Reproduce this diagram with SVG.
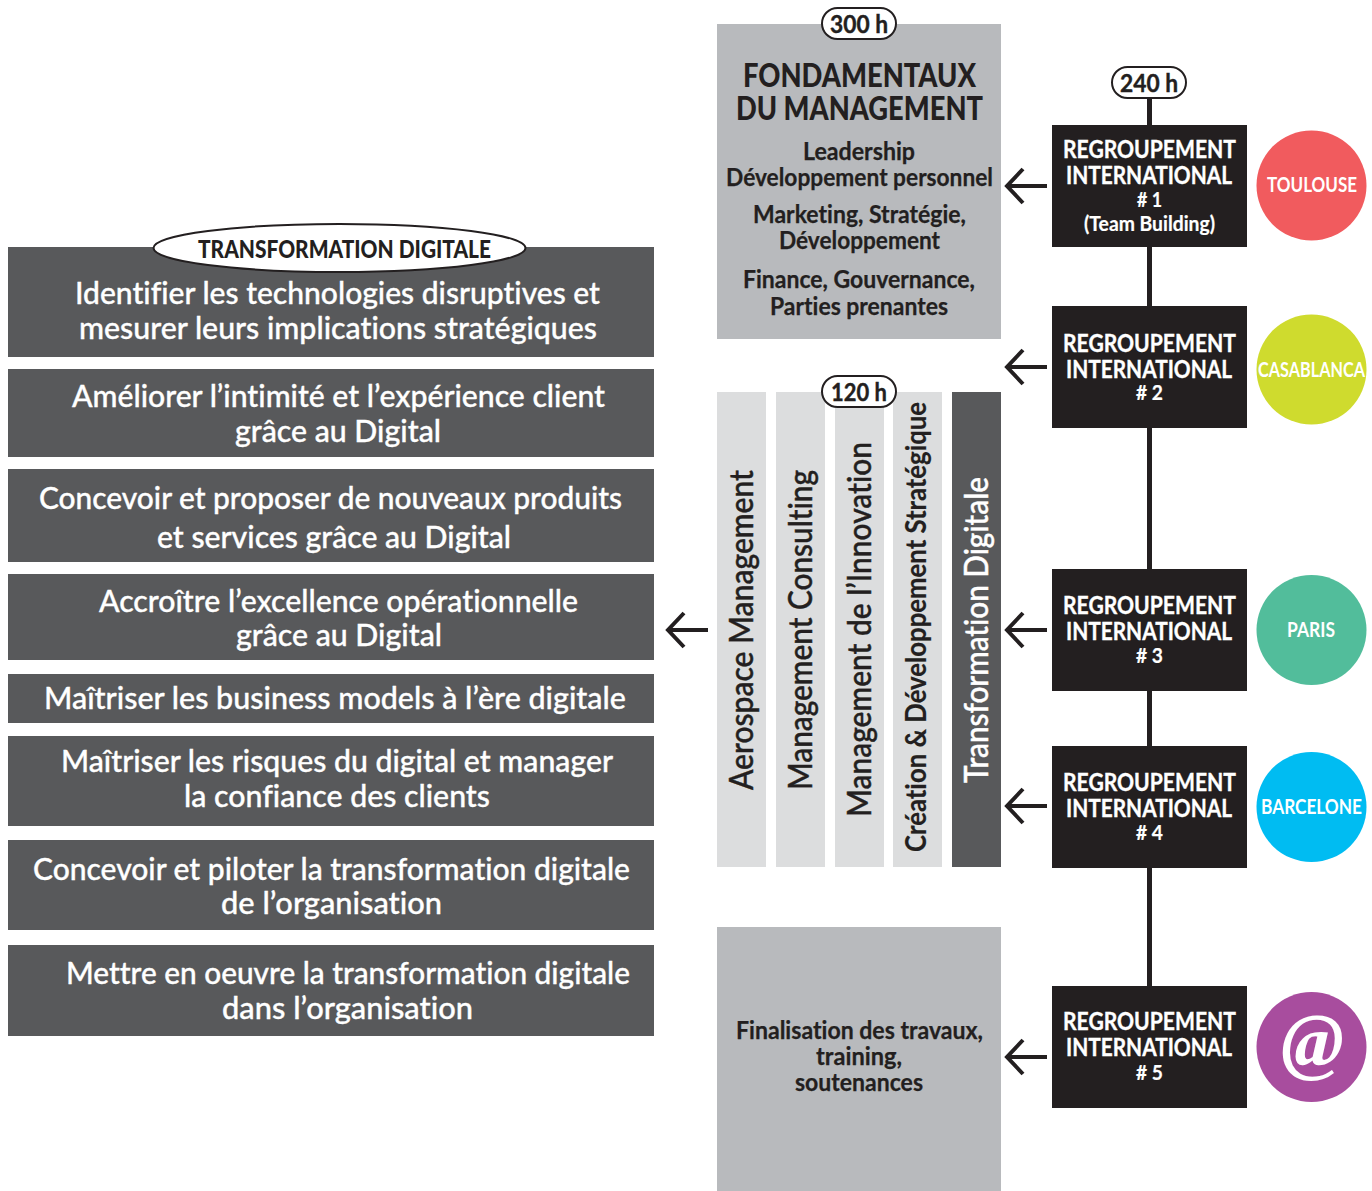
<svg xmlns="http://www.w3.org/2000/svg" width="1372" height="1191" viewBox="0 0 1372 1191">
<style>
text{font-family:"Lato","Liberation Sans",sans-serif;font-weight:700;font-variant-ligatures:none}
.obj{fill:#58595b}.obj-t{fill:#fff;font-size:31px;font-weight:500;stroke:#fff;stroke-width:.35px}
.hd{fill:#231f20;font-size:32px;font-weight:900}
.sub{fill:#231f20;font-size:24px;stroke:#231f20;stroke-width:.25px}
.blk{fill:#231f20}
.w{fill:#fff;font-size:24px;stroke:#fff;stroke-width:.35px}.w2{fill:#fff;font-size:20px;stroke:#fff;stroke-width:.2px}.city{fill:#fff;font-size:21px}
.pill{fill:#fff;stroke:#231f20;stroke-width:2}
.pt{fill:#231f20;font-size:25px;stroke:#231f20;stroke-width:.4px}
.lg{fill:#dcddde}.g{fill:#b8babd}
.v{fill:#231f20;font-size:33px;font-weight:500;stroke:#231f20;stroke-width:.45px}
.arr{fill:none;stroke:#231f20;stroke-width:4}
</style>
<defs>
<path id="arrow" class="arr" d="M42 0H2M18-17L2 0L18 17"/>
</defs>
<g id="connectors">
<rect x="1147" y="95" width="5" height="891" fill="#231f20"/>
<use href="#arrow" x="1005" y="186"/>
<use href="#arrow" x="1005" y="367"/>
<use href="#arrow" x="1005" y="630"/>
<use href="#arrow" x="1005" y="806"/>
<use href="#arrow" x="1005" y="1057"/>
<use href="#arrow" x="666" y="630"/>
</g>
<g id="obj1"><rect class="obj" x="8" y="247" width="646" height="110"/>
<text class="obj-t" x="75" y="304" textLength="525" lengthAdjust="spacingAndGlyphs">Identifier les technologies disruptives et</text>
<text class="obj-t" x="79" y="339" textLength="518" lengthAdjust="spacingAndGlyphs">mesurer leurs implications stratégiques</text></g>
<g id="obj2"><rect class="obj" x="8" y="369" width="646" height="88"/>
<text class="obj-t" x="72" y="407" textLength="533" lengthAdjust="spacingAndGlyphs">Améliorer l’intimité et l’expérience client</text>
<text class="obj-t" x="235" y="442" textLength="206" lengthAdjust="spacingAndGlyphs">grâce au Digital</text></g>
<g id="obj3"><rect class="obj" x="8" y="469" width="646" height="93"/>
<text class="obj-t" x="39" y="509" textLength="583" lengthAdjust="spacingAndGlyphs">Concevoir et proposer de nouveaux produits</text>
<text class="obj-t" x="157" y="548" textLength="354" lengthAdjust="spacingAndGlyphs">et services grâce au Digital</text></g>
<g id="obj4"><rect class="obj" x="8" y="574" width="646" height="86"/>
<text class="obj-t" x="99" y="612" textLength="479" lengthAdjust="spacingAndGlyphs">Accroître l’excellence opérationnelle</text>
<text class="obj-t" x="236" y="646" textLength="206" lengthAdjust="spacingAndGlyphs">grâce au Digital</text></g>
<g id="obj5"><rect class="obj" x="8" y="674" width="646" height="49"/>
<text class="obj-t" x="44" y="709" textLength="582" lengthAdjust="spacingAndGlyphs">Maîtriser les business models à l’ère digitale</text></g>
<g id="obj6"><rect class="obj" x="8" y="736" width="646" height="90"/>
<text class="obj-t" x="61" y="772" textLength="552" lengthAdjust="spacingAndGlyphs">Maîtriser les risques du digital et manager</text>
<text class="obj-t" x="184" y="807" textLength="306" lengthAdjust="spacingAndGlyphs">la confiance des clients</text></g>
<g id="obj7"><rect class="obj" x="8" y="840" width="646" height="90"/>
<text class="obj-t" x="33" y="880" textLength="597" lengthAdjust="spacingAndGlyphs">Concevoir et piloter la transformation digitale</text>
<text class="obj-t" x="221" y="914" textLength="221" lengthAdjust="spacingAndGlyphs">de l’organisation</text></g>
<g id="obj8"><rect class="obj" x="8" y="945" width="646" height="91"/>
<text class="obj-t" x="66" y="984" textLength="564" lengthAdjust="spacingAndGlyphs">Mettre en oeuvre la transformation digitale</text>
<text class="obj-t" x="222" y="1019" textLength="251" lengthAdjust="spacingAndGlyphs">dans l’organisation</text></g>
<g id="td-label"><ellipse class="pill" cx="339.500" cy="248" rx="186" ry="24"/>
<text x="198" y="258" fill="#231f20" font-size="25" style="font-weight:900" textLength="293" lengthAdjust="spacingAndGlyphs">TRANSFORMATION DIGITALE</text></g>

<g id="fondamentaux"><rect class="g" x="717" y="24" width="284" height="315"/>
<text class="hd" x="743" y="87" textLength="233" lengthAdjust="spacingAndGlyphs">FONDAMENTAUX</text>
<text class="hd" x="736" y="120" textLength="247" lengthAdjust="spacingAndGlyphs">DU MANAGEMENT</text>
<text class="sub" x="803" y="160" textLength="112" lengthAdjust="spacingAndGlyphs">Leadership</text>
<text class="sub" x="726" y="186" textLength="267" lengthAdjust="spacingAndGlyphs">Développement personnel</text>
<text class="sub" x="753" y="223" textLength="213" lengthAdjust="spacingAndGlyphs">Marketing, Stratégie,</text>
<text class="sub" x="779" y="249" textLength="161" lengthAdjust="spacingAndGlyphs">Développement</text>
<text class="sub" x="743" y="288" textLength="232" lengthAdjust="spacingAndGlyphs">Finance, Gouvernance,</text>
<text class="sub" x="770" y="315" textLength="178" lengthAdjust="spacingAndGlyphs">Parties prenantes</text></g>
<g id="pill300"><rect class="pill" x="822" y="8" width="74" height="31" rx="15.500"/>
<text class="pt" x="830" y="33" textLength="58" lengthAdjust="spacingAndGlyphs">300 h</text></g>

<g id="col1"><rect class="lg" x="717" y="392" width="49" height="475"/>
<text class="v" transform="translate(753 790) rotate(-90)" textLength="320" lengthAdjust="spacingAndGlyphs">Aerospace Management</text></g>
<g id="col2"><rect class="lg" x="776" y="392" width="49" height="475"/>
<text class="v" transform="translate(812 790) rotate(-90)" textLength="320" lengthAdjust="spacingAndGlyphs">Management Consulting</text></g>
<g id="col3"><rect class="lg" x="835" y="392" width="49" height="475"/>
<text class="v" transform="translate(871 817) rotate(-90)" textLength="375" lengthAdjust="spacingAndGlyphs">Management de l’Innovation</text></g>
<g id="col4"><rect class="lg" x="893" y="392" width="49" height="475"/>
<text class="v" style="font-size:28px;font-weight:700;stroke-width:.2px" transform="translate(926 852) rotate(-90)" textLength="450" lengthAdjust="spacingAndGlyphs">Création &amp; Développement Stratégique</text></g>
<g id="col5"><rect class="obj" x="952" y="392" width="49" height="475"/>
<text class="v" style="fill:#fff;stroke:#fff" transform="translate(988 783) rotate(-90)" textLength="306" lengthAdjust="spacingAndGlyphs">Transformation Digitale</text></g>
<g id="pill120"><rect class="pill" x="822" y="376" width="74" height="31" rx="15.500"/>
<text class="pt" x="831" y="401" textLength="56" lengthAdjust="spacingAndGlyphs">120 h</text></g>

<g id="final"><rect class="g" x="717" y="927" width="284" height="264"/>
<text class="sub" x="736" y="1039" textLength="247" lengthAdjust="spacingAndGlyphs">Finalisation des travaux,</text>
<text class="sub" x="816" y="1065" textLength="86" lengthAdjust="spacingAndGlyphs">training,</text>
<text class="sub" x="795" y="1091" textLength="128" lengthAdjust="spacingAndGlyphs">soutenances</text></g>

<g id="pill240"><rect class="pill" x="1112" y="67" width="74" height="31" rx="15.500"/>
<text class="pt" x="1120" y="92" textLength="58" lengthAdjust="spacingAndGlyphs">240 h</text></g>

<g id="reg1"><rect class="blk" x="1052" y="125" width="195" height="122"/>
<text class="w" x="1063" y="158" textLength="173" lengthAdjust="spacingAndGlyphs">REGROUPEMENT</text>
<text class="w" x="1066" y="184" textLength="166" lengthAdjust="spacingAndGlyphs">INTERNATIONAL</text>
<text class="w2" x="1137" y="207" textLength="25" lengthAdjust="spacingAndGlyphs"># 1</text>
<text class="w2" x="1084" y="231" textLength="131" lengthAdjust="spacingAndGlyphs">(Team Building)</text></g>
<g id="reg2"><rect class="blk" x="1052" y="306" width="195" height="122"/>
<text class="w" x="1063" y="352" textLength="173" lengthAdjust="spacingAndGlyphs">REGROUPEMENT</text>
<text class="w" x="1066" y="378" textLength="166" lengthAdjust="spacingAndGlyphs">INTERNATIONAL</text>
<text class="w2" x="1136" y="400" textLength="27" lengthAdjust="spacingAndGlyphs"># 2</text></g>
<g id="reg3"><rect class="blk" x="1052" y="569" width="195" height="122"/>
<text class="w" x="1063" y="614" textLength="173" lengthAdjust="spacingAndGlyphs">REGROUPEMENT</text>
<text class="w" x="1066" y="640" textLength="166" lengthAdjust="spacingAndGlyphs">INTERNATIONAL</text>
<text class="w2" x="1136" y="663" textLength="27" lengthAdjust="spacingAndGlyphs"># 3</text></g>
<g id="reg4"><rect class="blk" x="1052" y="746" width="195" height="122"/>
<text class="w" x="1063" y="791" textLength="173" lengthAdjust="spacingAndGlyphs">REGROUPEMENT</text>
<text class="w" x="1066" y="817" textLength="166" lengthAdjust="spacingAndGlyphs">INTERNATIONAL</text>
<text class="w2" x="1136" y="840" textLength="27" lengthAdjust="spacingAndGlyphs"># 4</text></g>
<g id="reg5"><rect class="blk" x="1052" y="986" width="195" height="122"/>
<text class="w" x="1063" y="1030" textLength="173" lengthAdjust="spacingAndGlyphs">REGROUPEMENT</text>
<text class="w" x="1066" y="1056" textLength="166" lengthAdjust="spacingAndGlyphs">INTERNATIONAL</text>
<text class="w2" x="1136" y="1080" textLength="27" lengthAdjust="spacingAndGlyphs"># 5</text></g>

<g id="toulouse"><circle cx="1311.500" cy="185.500" r="55" fill="#f15b5e"/>
<text class="city" x="1267" y="192" textLength="90" lengthAdjust="spacingAndGlyphs">TOULOUSE</text></g>
<g id="casablanca"><circle cx="1311.500" cy="369.500" r="55" fill="#cfdb2e"/>
<text class="city" x="1258" y="377" textLength="107" lengthAdjust="spacingAndGlyphs">CASABLANCA</text></g>
<g id="paris"><circle cx="1311.500" cy="630" r="55" fill="#52bd9b"/>
<text class="city" x="1287" y="637" textLength="48" lengthAdjust="spacingAndGlyphs">PARIS</text></g>
<g id="barcelone"><circle cx="1311.500" cy="807" r="55" fill="#00bcf2"/>
<text class="city" x="1261" y="814" textLength="101" lengthAdjust="spacingAndGlyphs">BARCELONE</text></g>
<g id="online"><circle cx="1311.500" cy="1047" r="55" fill="#a84d9e"/>
<text x="1281" y="1066" fill="#fff" font-size="76" font-style="italic" textLength="63" lengthAdjust="spacingAndGlyphs" style="font-family:'Liberation Serif',serif">@</text></g>
</svg>
